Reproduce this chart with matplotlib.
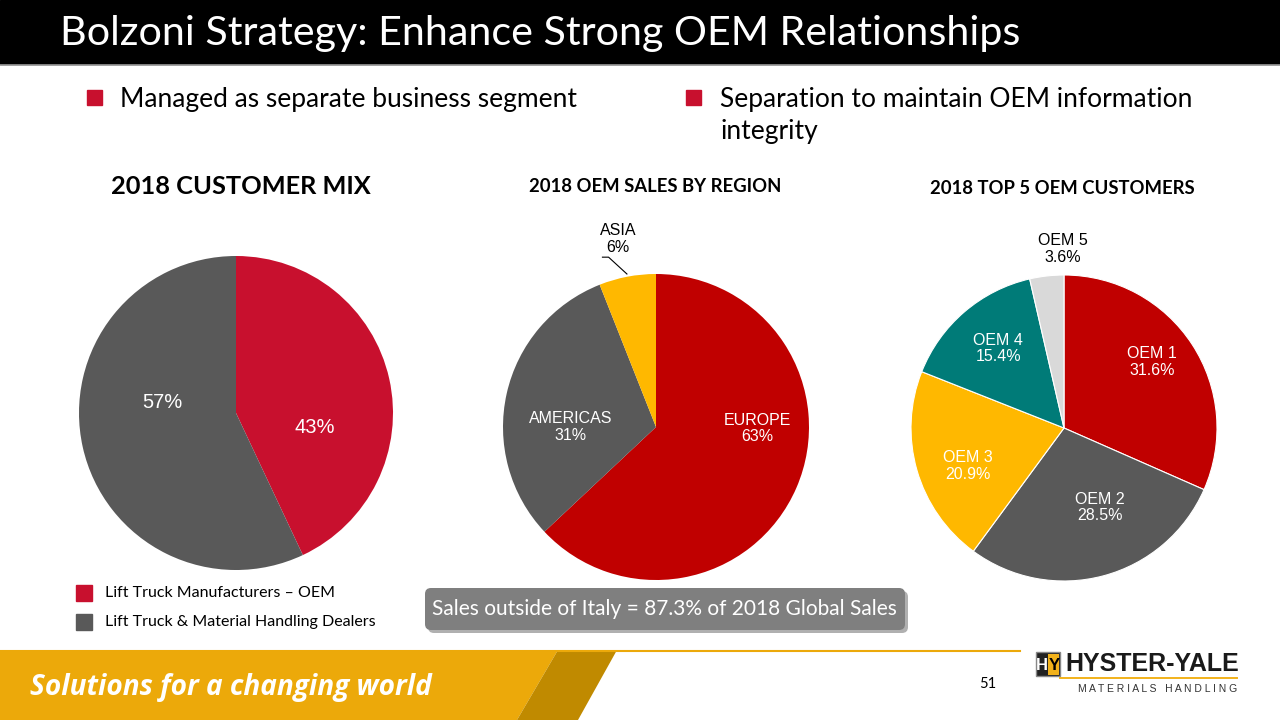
import matplotlib
matplotlib.use("Agg")
import matplotlib.pyplot as plt
from matplotlib.patches import Rectangle, FancyBboxPatch, Polygon

# data
mix_labels = ["Lift Truck Manufacturers – OEM", "Lift Truck & Material Handling Dealers"]
mix_values = [43, 57]
mix_colors = ["#C8102E", "#595959"]

region_labels = ["EUROPE", "AMERICAS", "ASIA"]
region_values = [63, 31, 6]
region_colors = ["#C00000", "#595959", "#FFB800"]

oem_labels = ["OEM 1", "OEM 2", "OEM 3", "OEM 4", "OEM 5"]
oem_values = [31.6, 28.5, 20.9, 15.4, 3.6]
oem_colors = ["#C00000", "#595959", "#FFB800", "#007B78", "#D9D9D9"]

W, H = 1280, 720
fig = plt.figure(figsize=(12.8, 7.2), dpi=100)
fig.patch.set_facecolor("white")

bg = fig.add_axes([0, 0, 1, 1])
bg.set_xlim(0, W)
bg.set_ylim(H, 0)
bg.axis("off")

# title bar
bg.add_patch(Rectangle((0, 0), W, 64, color="black"))
bg.plot([0, W], [64.5, 64.5], color="#9a9a9a", lw=1.2)
bg.text(60, 34, "Bolzoni Strategy: Enhance Strong OEM Relationships", color="white",
        fontsize=29.7, family="Lato", va="center", ha="left")

# bullets
bg.add_patch(Rectangle((87, 90), 15, 15, color="#C8102E"))
bg.text(120, 99, "Managed as separate business segment", fontsize=19, family="Lato",
        va="center", ha="left", color="black")
bg.add_patch(Rectangle((686, 90), 15, 15, color="#C8102E"))
bg.text(720, 99, "Separation to maintain OEM information", fontsize=19, family="Lato",
        va="center", ha="left", color="black")
bg.text(720, 132, "integrity", fontsize=19, family="Lato", va="center", ha="left", color="black")

# chart titles
bg.text(241, 186, "2018 CUSTOMER MIX", fontsize=18.3, family="Lato", weight="bold",
        ha="center", va="center")
bg.text(655, 186, "2018 OEM SALES BY REGION", fontsize=13.3, family="Lato", weight="bold",
        ha="center", va="center")
bg.text(1062, 189, "2018 TOP 5 OEM CUSTOMERS", fontsize=13.3, family="Lato", weight="bold",
        ha="center", va="center")


def pie_axes(cx, cy, r):
    a = fig.add_axes([(cx - r) / W, 1 - (cy + r) / H, 2 * r / W, 2 * r / H])
    a.set_xlim(-1, 1)
    a.set_ylim(-1, 1)
    a.axis("off")
    return a


def put(a, xy, s, color="white", size=11.5):
    t = a.text(xy[0], xy[1], s, color=color, fontsize=size, family="Liberation Sans",
               ha="center", va="center", linespacing=1.15)
    t.set_clip_on(False)
    return t


# pie 1
a1 = pie_axes(236, 413, 157)
a1.pie(mix_values, colors=mix_colors, startangle=90, counterclock=False, radius=1,
       wedgeprops=dict(linewidth=0))
a1.set_xlim(-1, 1); a1.set_ylim(-1, 1)
put(a1, (0.50, -0.09), f"{mix_values[0]}%", size=14.5)
put(a1, (-0.47, 0.064), f"{mix_values[1]}%", size=14.5)

# pie 2
a2 = pie_axes(656, 427, 153)
a2.pie(region_values, colors=region_colors, startangle=90, counterclock=False, radius=1,
       wedgeprops=dict(linewidth=0))
a2.set_xlim(-1, 1); a2.set_ylim(-1, 1)
put(a2, (0.66, -0.01), f"{region_labels[0]}\n{region_values[0]}%")
put(a2, (-0.56, 0.0), f"{region_labels[1]}\n{region_values[1]}%")
put(a2, (-0.25, 1.23), f"{region_labels[2]}\n{region_values[2]}%", color="black")
ln, = a2.plot([-0.35, -0.31, -0.19], [1.11, 1.11, 1.0], color="black", lw=0.8)
ln.set_clip_on(False)

# pie 3
a3 = pie_axes(1064, 428, 153)
a3.pie(oem_values, colors=oem_colors, startangle=90, counterclock=False, radius=1,
       wedgeprops=dict(linewidth=0.8, edgecolor="white"))
a3.set_xlim(-1, 1); a3.set_ylim(-1, 1)
oem_pos = [(0.575, 0.43), (0.235, -0.52), (-0.63, -0.25), (-0.43, 0.52), (-0.01, 1.17)]
for i, (lab, v) in enumerate(zip(oem_labels, oem_values)):
    col = "black" if i == 4 else "white"
    put(a3, oem_pos[i], f"{lab}\n{v}%", color=col)

# legend for customer mix
for i, (lab, c) in enumerate(zip(mix_labels, mix_colors)):
    y = 593 + i * 29
    bg.add_patch(Rectangle((76, y - 8), 16, 16, color=c))
    bg.text(105, y, lab, fontsize=11.5, family="Lato", va="center", ha="left")

# callout box
bg.add_patch(FancyBboxPatch((428, 591), 480, 42, boxstyle="round,pad=0,rounding_size=6",
                            color="#b0b0b0", lw=0))
bg.add_patch(FancyBboxPatch((425, 588), 480, 42, boxstyle="round,pad=0,rounding_size=6",
                            color="#7F7F7F", lw=0))
bg.text(664, 609, "Sales outside of Italy = 87.3% of 2018 Global Sales", color="white",
        fontsize=15, family="Lato", ha="center", va="center")

# footer
bg.plot([0, 1020], [650.5, 650.5], color="#ECA90A", lw=1.5)
bg.add_patch(Polygon([(0, 650), (558, 650), (517, 720), (0, 720)], closed=True,
                     color="#ECA90A", lw=0))
bg.add_patch(Polygon([(558, 650), (617, 650), (578, 720), (517, 720)], closed=True,
                     color="#C08A00", lw=0))
bg.text(30, 687, "Solutions for a changing world", color="white", fontsize=20.2,
        family="Open Sans", weight="bold", style="italic", va="center", ha="left")
bg.text(988, 684, "51", fontsize=10.5, family="Lato", ha="center", va="center")

# logo
bg.add_patch(Rectangle((1036, 652), 24, 24, facecolor="#222222", edgecolor="#888888", lw=1))
bg.add_patch(Rectangle((1048, 654), 11, 21, facecolor="#F2B21B", lw=0))
bg.text(1042, 665, "H", color="white", fontsize=12, weight="bold", family="Liberation Sans",
        ha="center", va="center")
bg.text(1054, 665, "Y", color="black", fontsize=12, weight="bold", family="Liberation Sans",
        ha="center", va="center")
bg.text(1065, 664, "HYSTER-YALE", fontsize=18, weight="bold", family="Liberation Sans",
        ha="left", va="center", color="#1a1a1a")
bg.plot([1060, 1237], [678, 678], color="#F2B21B", lw=1.4)
bg.text(1237, 689, "M A T E R I A L S   H A N D L I N G", fontsize=7.5, family="Liberation Sans",
        ha="right", va="center", color="#333333")

fig.savefig("out.png", dpi=100)
